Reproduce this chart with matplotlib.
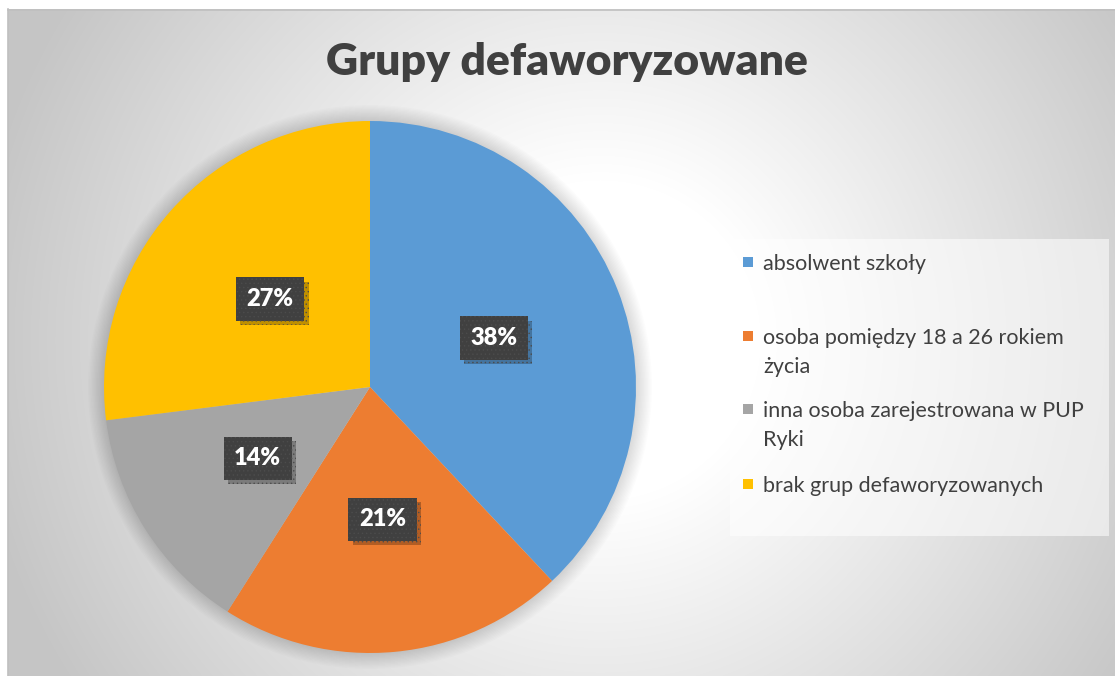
import numpy as np
import matplotlib
matplotlib.use('Agg')
import matplotlib.pyplot as plt
import matplotlib.patheffects as pe
from matplotlib.patches import Rectangle, Circle

plt.rcParams['font.family'] = ['Lato', 'DejaVu Sans']

# data
title = 'Grupy defaworyzowane'
categories = ['absolwent szkoły',
              'osoba pomiędzy 18 a 26 rokiem\nżycia',
              'inna osoba zarejestrowana w PUP\nRyki',
              'brak grup defaworyzowanych']
shares = [38, 21, 14, 27]
colors = ['#5B9BD5', '#ED7D31', '#A5A5A5', '#FFC000']

W, H = 1115, 676
fig = plt.figure(figsize=(W / 100, H / 100), dpi=100)

# background: radial grey gradient, axes in pixel coords
bg = fig.add_axes([0, 0, 1, 1])
yy, xx = np.mgrid[0:H, 0:W]
d = np.hypot(xx - 600, yy - 340)
t = np.clip((d - 160) / 470, 0, 1)
g = 1 - 0.225 * t
g[(xx < 8) | (yy < 9)] = 1.0
bg.imshow(np.dstack([g, g, g]), extent=(0, W, H, 0), interpolation='bilinear')
bg.set_xlim(0, W)
bg.set_ylim(H, 0)
bg.axis('off')
bg.plot([7.5, 7.5], [9, H], color='#bfbfbf', lw=1.2)
bg.plot([7.5, W], [9.5, 9.5], color='#bfbfbf', lw=1.2)

bg.text(567, 62, title, ha='center', va='center', fontsize=32,
        fontweight='heavy', color='#404040')

# legend
bg.add_patch(Rectangle((730, 239), 379, 297, facecolor='white', alpha=0.55, lw=0))
leg_y = [262, 336, 409, 484]
for lbl, c, y in zip(categories, colors, leg_y):
    bg.add_patch(Rectangle((743, y - 5), 10, 10, facecolor=c, lw=0))
    for i, line in enumerate(lbl.split('\n')):
        bg.text(763, y + 29 * i, line, ha='left', va='center_baseline',
                fontsize=15.5, color='#404040')

# pie
ax = fig.add_axes([104 / W, (H - 387 - 266) / H, 532 / W, 532 / H])
for k in range(12):
    ax.add_patch(Circle((0, 0), 1 + 0.005 * (k + 1), facecolor='k', alpha=0.012,
                        lw=0, clip_on=False, zorder=0))
wedges, texts, autotexts = ax.pie(shares, colors=colors, startangle=90,
                                  counterclock=False, autopct='%1.0f%%',
                                  pctdistance=0.5, wedgeprops=dict(linewidth=0))
ax.set_xlim(-1, 1)
ax.set_ylim(-1, 1)

plt.rcParams['hatch.linewidth'] = 0.5
for at in autotexts:
    at.set_color('white')
    at.set_fontweight('heavy')
    at.set_fontsize(17)
    at.set_bbox(dict(boxstyle='square,pad=0.45', facecolor='#404040',
                     edgecolor='#4c4c4c', lw=0, hatch='....'))
    at.get_bbox_patch().set_path_effects([
        pe.withSimplePatchShadow(offset=(3, -3), shadow_rgbFace='k', alpha=0.25),
        pe.Normal()])

fig.savefig('out.png', dpi=100)
